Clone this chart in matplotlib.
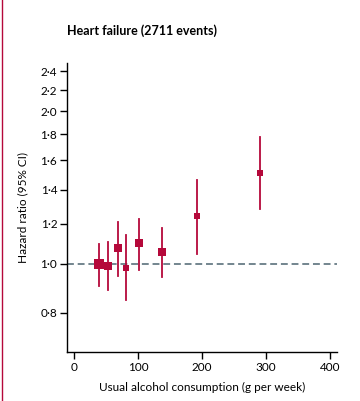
import numpy as np
import matplotlib.pyplot as plt
from matplotlib.ticker import FixedLocator, FuncFormatter, NullLocator
from matplotlib.lines import Line2D

# Data
alcohol = [39, 53, 69, 81, 101, 137, 192, 290]
hr = [1.00, 0.99, 1.075, 0.982, 1.097, 1.056, 1.24, 1.514]
ci_low = [0.905, 0.889, 0.947, 0.85, 0.973, 0.943, 1.046, 1.284]
ci_high = [1.095, 1.105, 1.21, 1.14, 1.227, 1.178, 1.465, 1.78]
box_px = [10, 8, 8, 6, 8, 8, 6, 6]

yticks = [0.8, 1.0, 1.2, 1.4, 1.6, 1.8, 2.0, 2.2, 2.4]
xticks = [0, 100, 200, 300, 400]

red = "#b5083a"
dash_col = "#4d6470"

plt.rcParams['font.family'] = ['Lato', 'DejaVu Sans']

fig = plt.figure(figsize=(3.6, 4.01), dpi=100)
# axes box in pixels: left 67, right 337, top 63, bottom 352
ax = fig.add_axes([67 / 360, 1 - 352 / 401, 270 / 360, 289 / 401])

ax.set_yscale('log')
ax.set_ylim(0.67, 2.49)
ax.set_xlim(-11, 411)

ax.axhline(1.0, color=dash_col, lw=1.1, ls=(0, (4.5, 2.5)), zorder=1)

for x, y, lo, hi, s in zip(alcohol, hr, ci_low, ci_high, box_px):
    ax.plot([x, x], [lo, hi], color=red, lw=1.3, zorder=2)
    ax.plot(x, y, marker='s', color=red, markersize=s * 0.72, mew=0, zorder=3)

ax.yaxis.set_major_locator(FixedLocator(yticks))
ax.yaxis.set_minor_locator(NullLocator())
ax.yaxis.set_major_formatter(FuncFormatter(lambda v, p: f"{v:.1f}".replace('.', '·')))
ax.set_xticks(xticks)
ax.set_xticklabels([str(t) for t in xticks])

for side in ['top', 'right']:
    ax.spines[side].set_visible(False)
for side in ['left', 'bottom']:
    ax.spines[side].set_linewidth(1.0)

ax.tick_params(axis='both', labelsize=8.5, width=1.0, length=5, pad=2, colors='black')

ax.set_ylabel("Hazard ratio (95% CI)", fontsize=8.5, labelpad=9)
ax.set_xlabel("Usual alcohol consumption (g per week)", fontsize=8.5, labelpad=7)

fig.text(67 / 360, 1 - 31 / 401, "Heart failure (2711 events)", fontsize=9,
         fontweight='bold', ha='left', va='center')

# left border line
fig.add_artist(Line2D([1.5 / 360, 1.5 / 360], [0, 1], color=red, lw=1.0,
                      transform=fig.transFigure))

fig.savefig("out.png", dpi=100)
